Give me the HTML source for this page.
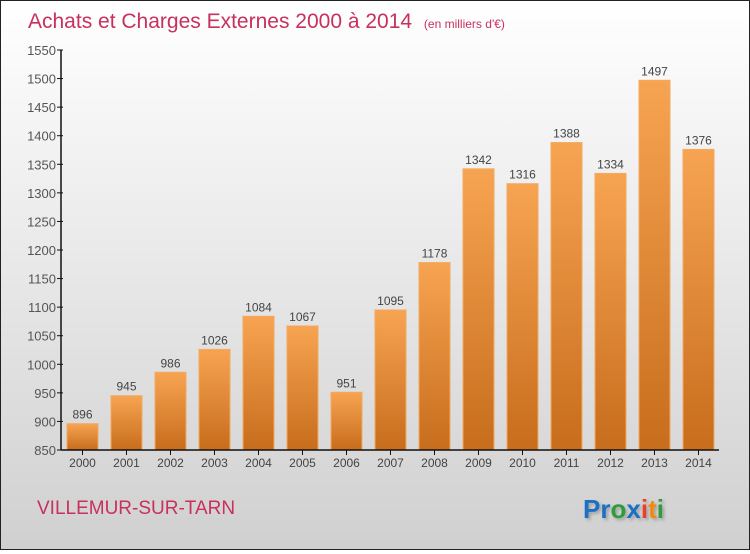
<!DOCTYPE html>
<html><head><meta charset="utf-8"><style>
html,body{margin:0;padding:0}
body{width:750px;height:550px;overflow:hidden;font-family:"Liberation Sans",sans-serif}
#wrap{position:absolute;left:0;top:0;width:748px;height:548px;border:1px solid #222;background:linear-gradient(#ffffff,#d0d0d0)}
</style></head><body>
<div id="wrap">
<svg id="chart" width="748" height="548" xmlns="http://www.w3.org/2000/svg">
<defs><linearGradient id="bg" x1="0" y1="0" x2="0" y2="1"><stop offset="0" stop-color="#f7a452"/><stop offset="1" stop-color="#c76d1c"/></linearGradient>
<filter id="sh" x="-20%" y="-20%" width="150%" height="150%"><feDropShadow dx="2" dy="2" stdDeviation="1.5" flood-color="#000" flood-opacity="0.25"/></filter></defs>
<text x="27" y="27" font-size="21" fill="#c8305e">Achats et Charges Externes 2000 à 2014 <tspan font-size="12" dx="6">(en milliers d'€)</tspan></text>
<g id="grid"></g><g id="bars"></g><g id="axes"></g>
<text x="36" y="513" font-size="19" fill="#c8305e">VILLEMUR-SUR-TARN</text>
<g font-size="26" font-weight="bold" filter="url(#sh)">
<text x="582" y="517"><tspan fill="#1a6fc4">Pr</tspan><tspan fill="#2e9c3a">o</tspan><tspan fill="#1a6fc4">x</tspan><tspan fill="#e8402a">i</tspan><tspan fill="#f08a10">t</tspan><tspan fill="#2e9c3a">i</tspan></text></g>
</svg></div>
<script>
const years=["2000","2001","2002","2003","2004","2005","2006","2007","2008","2009","2010","2011","2012","2013","2014"];
const values=[896,945,986,1026,1084,1067,951,1095,1178,1342,1316,1388,1334,1497,1376];
const yTicks=[850,900,950,1000,1050,1100,1150,1200,1250,1300,1350,1400,1450,1500,1550];
const NS="http://www.w3.org/2000/svg";
const y0=449,y1=49,vmin=850,vmax=1550;
function yScale(v){return y0-(v-vmin)/(vmax-vmin)*(y0-y1);}
function xScale(i){return 66+i*44;}
const bw=31;
function mk(t,a,p){const e=document.createElementNS(NS,t);for(const k in a)e.setAttribute(k,a[k]);p.appendChild(e);return e;}
const axes=document.getElementById('axes'),bars=document.getElementById('bars');
yTicks.forEach(v=>{const y=yScale(v);
const l=mk('line',{x1:56,x2:62,y1:y,y2:y,stroke:'#111'},axes);


const t=mk('text',{x:55,y:y+5,'text-anchor':'end','font-size':13,fill:'#555'},axes);t.textContent=v;

});
values.forEach((v,i)=>{const x=xScale(i),y=yScale(v);
const r=mk('rect',{x:x,y:y,width:bw,height:y0-y,fill:'url(#bg)',stroke:'#f5a860','stroke-width':1},bars);


const t=mk('text',{x:x+bw/2,y:y-5,'text-anchor':'middle','font-size':12,fill:'#444'},bars);t.textContent=v;


const tk=mk('line',{x1:x+bw/2,x2:x+bw/2,y1:y0,y2:y0+5,stroke:'#111'},axes);


const xl=mk('text',{x:x+bw/2,y:y0+17,'text-anchor':'middle','font-size':12,fill:'#444'},axes);xl.textContent=years[i];

});
const ya=mk('line',{x1:60,x2:60,y1:y1,y2:y0,stroke:'#111','stroke-width':1.5},axes);


const xa=mk('line',{x1:60,x2:718,y1:y0,y2:y0,stroke:'#111','stroke-width':1.5},axes);


</script>
</body></html>
